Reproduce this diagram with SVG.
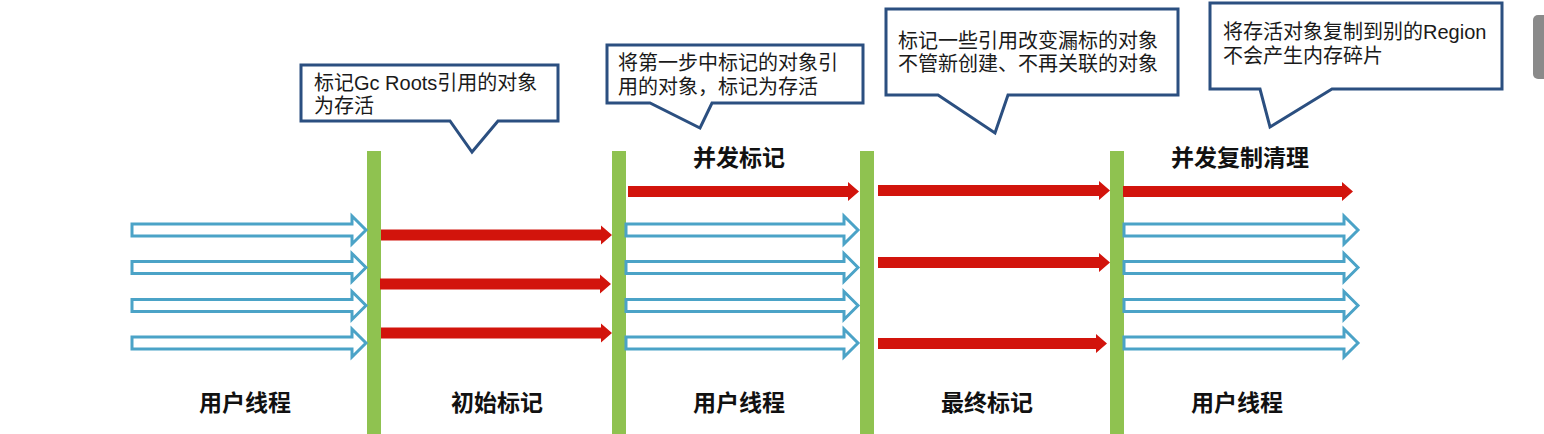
<svg xmlns="http://www.w3.org/2000/svg" width="1544" height="434" viewBox="0 0 1544 434">
<style>
.bar{fill:#8fc250}
.ho{fill:#fff;stroke:#4ba3c7;stroke-width:3;stroke-linejoin:miter}
.rd{fill:#d2140c}
.co{fill:#fff;stroke:#2b4f80;stroke-width:3;stroke-linejoin:miter}
.ct{font-family:"Liberation Sans","Noto Sans CJK SC",sans-serif;font-size:20px;fill:#1a1a1a}
.lb{font-family:"Noto Sans CJK SC","Noto Sans",sans-serif;font-size:23px;font-weight:bold;fill:#111;text-anchor:middle}
</style>
<rect width="1544" height="434" fill="#fff"/>
<g id="bars">
<rect class="bar" x="367" y="151" width="14" height="283"/>
<rect class="bar" x="612" y="151" width="14" height="283"/>
<rect class="bar" x="860" y="151" width="14" height="283"/>
<rect class="bar" x="1110" y="151" width="14" height="283"/>
</g>
<g id="connectors">
<path class="ho" d="M132,224 H352 V216 L366,230 L352,244 V236 H132 Z"/>
<path class="ho" d="M132,261.5 H352 V253.5 L366,267.5 L352,281.5 V273.5 H132 Z"/>
<path class="ho" d="M132,299.5 H352 V291.5 L366,305.5 L352,319.5 V311.5 H132 Z"/>
<path class="ho" d="M132,337 H352 V329 L366,343 L352,357 V349 H132 Z"/>
<path class="rd" d="M381,229.5 H601 V225.5 L612,235 L601,244.5 V240.5 H381 Z"/>
<path class="rd" d="M380,278.5 H600 V274.5 L611,284 L600,293.5 V289.5 H380 Z"/>
<path class="rd" d="M381,327.5 H601 V323.5 L612,333 L601,342.5 V338.5 H381 Z"/>
<path class="rd" d="M628,186 H848 V182 L859,191.5 L848,201 V197 H628 Z"/>
<path class="ho" d="M626,224 H844 V216 L858,230 L844,244 V236 H626 Z"/>
<path class="ho" d="M626,261.5 H844 V253.5 L858,267.5 L844,281.5 V273.5 H626 Z"/>
<path class="ho" d="M626,299.5 H844 V291.5 L858,305.5 L844,319.5 V311.5 H626 Z"/>
<path class="ho" d="M626,337 H844 V329 L858,343 L844,357 V349 H626 Z"/>
<path class="rd" d="M878,185 H1099 V181 L1110,190.5 L1099,200 V196 H878 Z"/>
<path class="rd" d="M878,257 H1099 V253 L1110,262.5 L1099,272 V268 H878 Z"/>
<path class="rd" d="M878,338 H1096 V334 L1107,343.5 L1096,353 V349 H878 Z"/>
<path class="rd" d="M1123,186 H1342 V182 L1353,191.5 L1342,201 V197 H1123 Z"/>
<path class="ho" d="M1124,224 H1344 V216 L1358,230 L1344,244 V236 H1124 Z"/>
<path class="ho" d="M1124,261.5 H1344 V253.5 L1358,267.5 L1344,281.5 V273.5 H1124 Z"/>
<path class="ho" d="M1124,299.5 H1344 V291.5 L1358,305.5 L1344,319.5 V311.5 H1124 Z"/>
<path class="ho" d="M1124,337 H1344 V329 L1358,343 L1344,357 V349 H1124 Z"/>
</g>
<g id="callout1">
<path class="co" d="M301,65 H558 V121 H498 L472,152 L450,121 H301 Z"/>
<text class="ct" x="314" y="90">标记Gc Roots引用的对象<tspan x="314" dy="23">为存活</tspan></text>
</g>
<g id="callout2">
<path class="co" d="M607,45 H863 V103 H712 L700,128 L650,103 H607 Z"/>
<text class="ct" x="618" y="70">将第一步中标记的对象引<tspan x="618" dy="24">用的对象，标记为存活</tspan></text>
</g>
<g id="callout3">
<path class="co" d="M886,9 H1178 V95 H1008 L995,133 L938,95 H886 Z"/>
<text class="ct" x="898" y="48">标记一些引用改变漏标的对象<tspan x="898" dy="23">不管新创建、不再关联的对象</tspan></text>
</g>
<g id="callout4">
<path class="co" d="M1210,3 H1502 V89 H1332 L1270,127 L1260,89 H1210 Z"/>
<text class="ct" x="1223" y="39">将存活对象复制到别的Region<tspan x="1223" dy="24">不会产生内存碎片</tspan></text>
</g>
<g id="labels">
<text class="lb" x="739" y="166">并发标记</text>
<text class="lb" x="1240" y="166">并发复制清理</text>
<text class="lb" x="245" y="411">用户线程</text>
<text class="lb" x="497" y="411">初始标记</text>
<text class="lb" x="739" y="411">用户线程</text>
<text class="lb" x="987" y="411">最终标记</text>
<text class="lb" x="1237" y="411">用户线程</text>
</g>
<rect id="side-tab" x="1533" y="15" width="20" height="64" rx="5" fill="#8a8a8a"/>
</svg>
